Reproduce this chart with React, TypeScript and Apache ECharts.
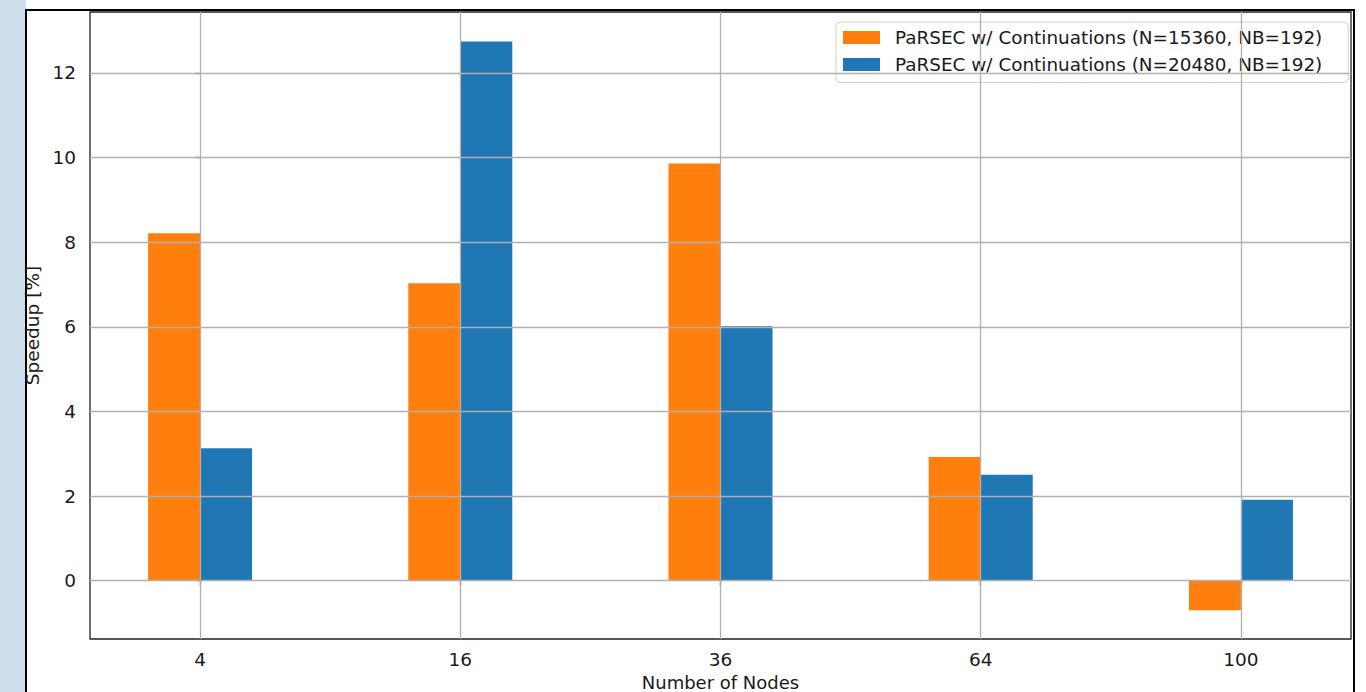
import React, { useEffect, useRef } from "react";
import * as echarts from "echarts";

const categories = ["4", "16", "36", "64", "100"];
const seriesNames = [
  "PaRSEC w/ Continuations (N=15360, NB=192)",
  "PaRSEC w/ Continuations (N=20480, NB=192)",
];
const valuesN15360 = [8.21, 7.03, 9.86, 2.92, -0.7];
const valuesN20480 = [3.13, 12.74, 6.01, 2.5, 1.91];
const yTicks = [0, 2, 4, 6, 8, 10, 12];

const FONT = "DejaVu Sans";

export default function App() {
  const ref = useRef<HTMLDivElement>(null);
  useEffect(() => {
    if (!ref.current) return;
    const chart = echarts.init(ref.current, null, { renderer: "svg" });
    const xIdx = categories.map((_, i) => i);
    const option = {
      animation: false,
      backgroundColor: "#ffffff",
      graphic: [
        {
          type: "rect",
          z: -10,
          shape: { x: 0, y: 0, width: 26, height: 692 },
          style: { fill: "#cddfeb" },
          silent: true,
        },
        {
          type: "rect",
          z: -10,
          shape: { x: 26, y: 10, width: 1328, height: 700 },
          style: { fill: "#ffffff", stroke: "#000000", lineWidth: 2 },
          silent: true,
        },
      ],
      grid: {
        left: 90,
        top: 12,
        right: 15,
        bottom: 53,
        outerBoundsMode: "none",
        containLabel: false,
        show: true,
        borderColor: "#222222",
        borderWidth: 1.3,
        backgroundColor: "#ffffff",
      },
      legend: {
        orient: "vertical",
        left: 836,
        top: 22,
        padding: [6.5, 26, 9, 7],
        itemWidth: 37,
        itemHeight: 13,
        itemGap: 9,
        icon: "rect",
        borderColor: "#d0d0d0",
        borderWidth: 1,
        borderRadius: 4,
        backgroundColor: "rgba(255,255,255,0.85)",
        textStyle: {
          fontFamily: FONT,
          fontSize: 18.4,
          lineHeight: 18,
          color: "#1a1a1a",
          padding: [0, 0, 0, 10],
        },
        data: seriesNames,
      },
      xAxis: {
        type: "value",
        min: -0.423,
        max: 4.423,
        name: "Number of Nodes",
        nameLocation: "middle",
        nameGap: 33,
        nameTextStyle: {
          fontFamily: FONT,
          fontSize: 18,
          lineHeight: 15,
          color: "#1a1a1a",
        },
        axisLine: { show: false },
        splitLine: { show: false },
        axisTick: {
          show: true,
          customValues: xIdx,
          length: 5,
          lineStyle: { color: "#222222", width: 1.3 },
        },
        axisLabel: {
          customValues: xIdx,
          margin: 11,
          fontFamily: FONT,
          fontSize: 18.5,
          color: "#1a1a1a",
          formatter: (v: number) => categories[Math.round(v)] ?? "",
        },
      },
      yAxis: {
        type: "value",
        min: -1.38,
        max: 13.44,
        name: "Speedup [%]",
        nameLocation: "middle",
        nameGap: 46,
        nameTextStyle: { fontFamily: FONT, fontSize: 18.5, color: "#1a1a1a" },
        axisLine: { show: false },
        splitLine: { show: false },
        axisTick: {
          show: true,
          customValues: yTicks,
          length: 5,
          lineStyle: { color: "#222222", width: 1.3 },
        },
        axisLabel: {
          customValues: yTicks,
          margin: 14,
          fontFamily: FONT,
          fontSize: 18.5,
          color: "#1a1a1a",
        },
      },
      series: [
        {
          type: "line",
          name: "grid",
          data: [],
          z: 1,
          silent: true,
          markLine: {
            silent: true,
            symbol: ["none", "none"],
            label: { show: false },
            lineStyle: { color: "#b0b0b0", width: 1.3, type: "solid" },
            data: [
              ...xIdx.map((i) => ({ xAxis: i })),
              ...yTicks.map((v) => ({ yAxis: v })),
            ],
          },
        },
        {
          type: "bar",
          name: seriesNames[0],
          z: 3,
          barWidth: 52,
          barGap: "0%",
          itemStyle: { color: "#ff7f0e" },
          data: valuesN15360.map((v, i) => [i, v]),
        },
        {
          type: "bar",
          name: seriesNames[1],
          z: 3,
          barWidth: 52,
          barGap: "0%",
          itemStyle: { color: "#1f77b4" },
          data: valuesN20480.map((v, i) => [i, v]),
        },
      ],
    };
    chart.setOption(option as any);
    return () => chart.dispose();
  }, []);
  return (
    <div
      ref={ref}
      style={{ position: "fixed", left: 0, top: 0, width: 1366, height: 692 }}
    />
  );
}
